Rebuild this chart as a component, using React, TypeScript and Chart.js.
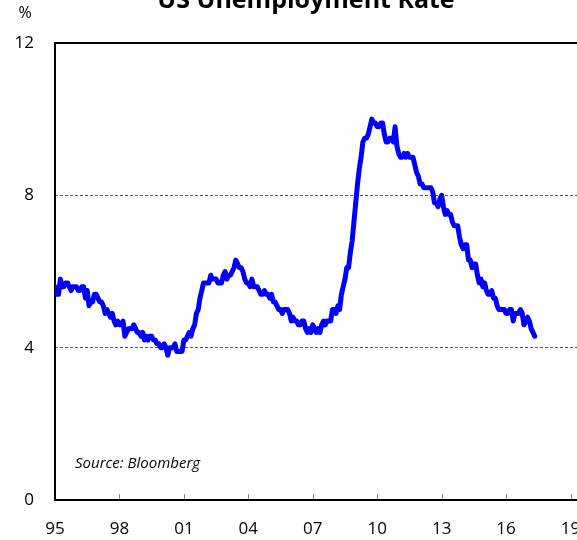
import React, { useEffect, useRef } from "react";
import { Chart, registerables } from "chart.js";

Chart.register(...registerables);

// US unemployment rate, monthly, %, Jan 1995 onwards
const rate1995to1999 = [
  5.6, 5.4, 5.4, 5.8, 5.6, 5.6, 5.7, 5.7, 5.6, 5.5, 5.6, 5.6,
  5.6, 5.5, 5.5, 5.6, 5.6, 5.3, 5.5, 5.1, 5.2, 5.2, 5.4, 5.4,
  5.3, 5.2, 5.2, 5.1, 4.9, 5.0, 4.9, 4.8, 4.9, 4.7, 4.6, 4.7,
  4.6, 4.6, 4.7, 4.3, 4.4, 4.5, 4.5, 4.5, 4.6, 4.5, 4.4, 4.4,
  4.3, 4.4, 4.2, 4.3, 4.2, 4.3, 4.3, 4.2, 4.2, 4.1, 4.1, 4.0,
];
const rate2000to2004 = [
  4.0, 4.1, 4.0, 3.8, 4.0, 4.0, 4.0, 4.1, 3.9, 3.9, 3.9, 3.9,
  4.2, 4.2, 4.3, 4.4, 4.3, 4.5, 4.6, 4.9, 5.0, 5.3, 5.5, 5.7,
  5.7, 5.7, 5.7, 5.9, 5.8, 5.8, 5.8, 5.7, 5.7, 5.7, 5.9, 6.0,
  5.8, 5.9, 5.9, 6.0, 6.1, 6.3, 6.2, 6.1, 6.1, 6.0, 5.8, 5.7,
  5.7, 5.6, 5.8, 5.6, 5.6, 5.6, 5.5, 5.4, 5.4, 5.5, 5.4, 5.4,
];
const rate2005to2009 = [
  5.3, 5.4, 5.2, 5.2, 5.1, 5.0, 5.0, 4.9, 5.0, 5.0, 5.0, 4.9,
  4.7, 4.8, 4.7, 4.7, 4.6, 4.6, 4.7, 4.7, 4.5, 4.4, 4.5, 4.4,
  4.6, 4.5, 4.4, 4.5, 4.4, 4.6, 4.7, 4.6, 4.7, 4.7, 4.7, 5.0,
  5.0, 4.9, 5.1, 5.0, 5.4, 5.6, 5.8, 6.1, 6.1, 6.5, 6.8, 7.3,
  7.8, 8.3, 8.7, 9.0, 9.4, 9.5, 9.5, 9.6, 9.8, 10.0, 9.9, 9.9,
];
const rate2010to2014 = [
  9.8, 9.8, 9.9, 9.9, 9.6, 9.4, 9.4, 9.5, 9.5, 9.4, 9.8, 9.3,
  9.1, 9.0, 9.0, 9.1, 9.0, 9.1, 9.0, 9.0, 9.0, 8.8, 8.6, 8.5,
  8.3, 8.3, 8.2, 8.2, 8.2, 8.2, 8.2, 8.1, 7.8, 7.8, 7.7, 7.9,
  8.0, 7.7, 7.5, 7.6, 7.5, 7.5, 7.3, 7.2, 7.2, 7.2, 6.9, 6.7,
  6.6, 6.7, 6.7, 6.3, 6.3, 6.1, 6.2, 6.2, 5.9, 5.7, 5.8, 5.6,
];
const rate2015to2017 = [
  5.7, 5.5, 5.4, 5.4, 5.5, 5.3, 5.3, 5.1, 5.0, 5.0, 5.0, 5.0,
  4.9, 4.9, 5.0, 5.0, 4.7, 4.9, 4.9, 4.9, 5.0, 4.9, 4.6, 4.7,
  4.8, 4.7, 4.5, 4.4, 4.3,
];

const xTickLabels = ["95", "98", "01", "04", "07", "10", "13", "16", "19"];
const monthsPerTick = 36;
const yTickValues = [0, 4, 8, 12];

const titleText = "US Unemployment Rate";
const unitText = "%";
const sourceText = "Source: Bloomberg";

const FONT = "'Open Sans', 'DejaVu Sans', sans-serif";

export default function App() {
  const ref = useRef<HTMLCanvasElement | null>(null);

  useEffect(() => {
    document.body.style.margin = "0";
    const canvas = ref.current;
    if (!canvas) return;
    const values = [
      ...rate1995to1999,
      ...rate2000to2004,
      ...rate2005to2009,
      ...rate2010to2014,
      ...rate2015to2017,
    ];
    const points = values.map((v, i) => ({ x: i, y: v }));

    const decor = {
      id: "decor",
      beforeDatasetsDraw(chart: any) {
        const { ctx, chartArea: a, scales } = chart;
        ctx.save();
        ctx.strokeStyle = "#8c8c8c";
        ctx.lineWidth = 1;
        scales.x.ticks.forEach((t: any) => {
          const px = Math.round(scales.x.getPixelForValue(t.value)) + 0.5;
          ctx.beginPath();
          ctx.moveTo(px, a.bottom);
          ctx.lineTo(px, a.bottom - 6);
          ctx.stroke();
        });
        ctx.strokeStyle = "#000";
        ctx.lineWidth = 2;
        ctx.strokeRect(a.left, a.top, a.right - a.left, a.bottom - a.top);
        ctx.restore();
      },
      afterDraw(chart: any) {
        const { ctx } = chart;
        ctx.save();
        ctx.fillStyle = "#000";
        ctx.textBaseline = "alphabetic";
        ctx.textAlign = "center";
        ctx.font = `bold 25px ${FONT}`;
        ctx.fillText(titleText, 306, 8);
        ctx.font = `16px ${FONT}`;
        ctx.fillText(unitText, 25, 18);
        ctx.textAlign = "left";
        ctx.font = `italic 15px ${FONT}`;
        ctx.fillText(sourceText, 75, 468);
        ctx.restore();
      },
    };

    const chart = new Chart(canvas, {
      type: "line",
      data: {
        datasets: [
          {
            data: points,
            borderColor: "#0000ff",
            borderWidth: 5,
            pointRadius: 0,
            fill: false,
            tension: 0,
            borderJoinStyle: "round",
            borderCapStyle: "round",
          },
        ],
      },
      options: {
        animation: false,
        responsive: false,
        devicePixelRatio: 1,
        layout: { padding: { top: 43, left: 0, right: 28, bottom: 0 } },
        plugins: {
          legend: { display: false },
          tooltip: { enabled: false },
          title: { display: false },
        },
        scales: {
          x: {
            type: "linear",
            min: 0,
            max: 300,
            afterBuildTicks: (s: any) => {
              s.ticks = xTickLabels.map((_, i) => ({ value: i * monthsPerTick }));
            },
            afterFit: (s: any) => {
              s.height = 40;
            },
            ticks: {
              autoSkip: false,
              maxRotation: 0,
              padding: 19,
              color: "#000",
              font: { family: FONT, size: 17 },
              callback: (v: any) => xTickLabels[Math.round(Number(v) / monthsPerTick)] ?? "",
            },
            grid: { display: false, drawTicks: false },
            border: { display: false },
          },
          y: {
            min: 0,
            max: 12,
            afterBuildTicks: (s: any) => {
              s.ticks = yTickValues.map((v) => ({ value: v }));
            },
            afterFit: (s: any) => {
              s.width = 55;
            },
            ticks: {
              padding: 21,
              color: "#000",
              font: { family: FONT, size: 17 },
            },
            grid: {
              drawTicks: false,
              lineWidth: 1,
              color: (c: any) =>
                c.tick && (c.tick.value === 4 || c.tick.value === 8) ? "#555555" : "rgba(0,0,0,0)",
            },
            border: { display: false, dash: [3, 2] },
          },
        },
      },
      plugins: [decor],
    });
    return () => chart.destroy();
  }, []);

  return (
    <div
      style={{
        position: "absolute",
        left: 0,
        top: 0,
        width: 577,
        height: 540,
        overflow: "hidden",
        background: "#fff",
      }}
    >
      <canvas ref={ref} width={620} height={540} style={{ width: 620, height: 540, display: "block" }} />
    </div>
  );
}
